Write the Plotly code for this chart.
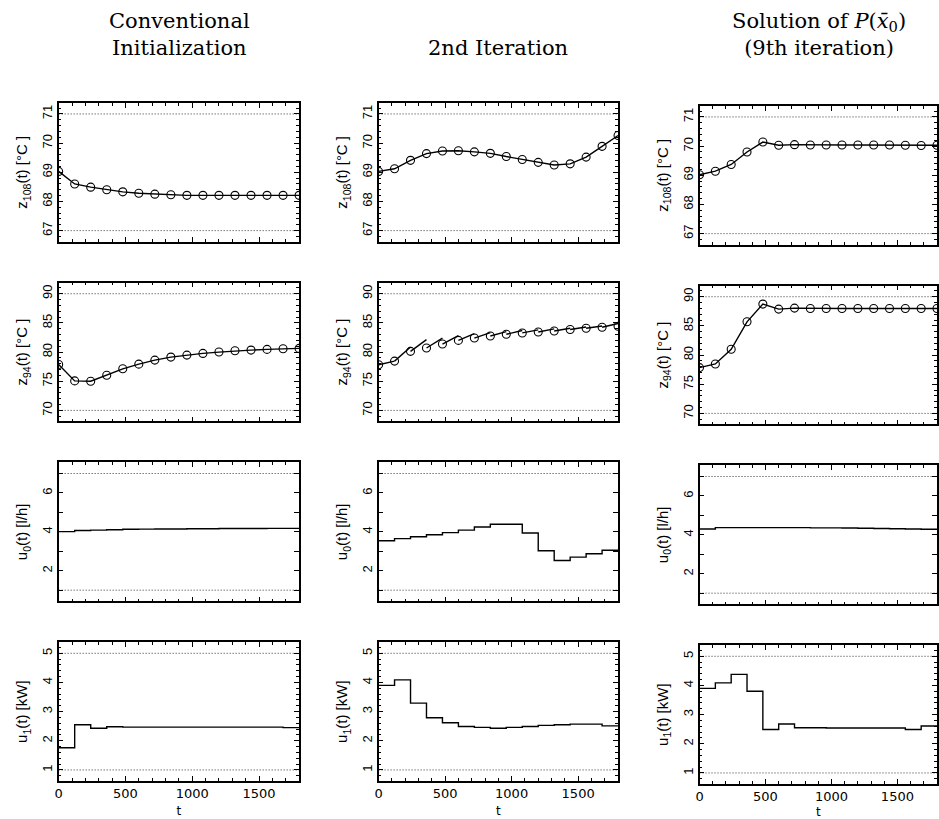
import plotly.graph_objects as go

W, H = 939, 819

# ---------------- data ----------------
T = [0, 120, 240, 360, 480, 600, 720, 840, 960, 1080, 1200, 1320, 1440, 1560, 1680, 1800]

z108_conv = [69.03, 68.60, 68.49, 68.40, 68.33, 68.28, 68.25, 68.23, 68.21, 68.21, 68.21, 68.21, 68.21, 68.21, 68.21, 68.21]
z108_iter2 = [69.03, 69.12, 69.41, 69.64, 69.73, 69.74, 69.70, 69.65, 69.54, 69.44, 69.34, 69.25, 69.29, 69.52, 69.89, 70.26]
z108_sol = [69.02, 69.14, 69.37, 69.80, 70.14, 70.03, 70.05, 70.04, 70.04, 70.04, 70.04, 70.04, 70.04, 70.03, 70.02, 70.03]

z94_conv = [77.87, 75.06, 75.00, 76.03, 77.13, 77.93, 78.62, 79.14, 79.48, 79.77, 80.00, 80.23, 80.34, 80.46, 80.57, 80.63]
z94_iter2_nodes = [77.83, 78.45, 80.12, 80.70, 81.38, 82.00, 82.40, 82.76, 83.05, 83.28, 83.45, 83.62, 83.86, 84.09, 84.26, 84.43]
z94_iter2_ends = [78.45, 80.86, 82.14, 82.40, 82.80, 83.17, 83.34, 83.50, 83.69, 83.80, 83.97, 84.09, 84.30, 84.48, 84.90]
z94_sol = [77.85, 78.48, 81.00, 85.70, 88.74, 87.88, 88.05, 87.99, 87.99, 87.99, 87.99, 87.99, 87.99, 87.99, 87.99, 87.99]

u0_conv = [4.01, 4.07, 4.09, 4.11, 4.13, 4.14, 4.15, 4.15, 4.16, 4.16, 4.17, 4.17, 4.17, 4.18, 4.18]
u0_iter2 = [3.54, 3.65, 3.75, 3.85, 3.96, 4.09, 4.25, 4.39, 4.39, 3.94, 3.03, 2.53, 2.70, 2.87, 3.05]
u0_sol = [4.30, 4.37, 4.37, 4.37, 4.37, 4.37, 4.37, 4.36, 4.36, 4.35, 4.34, 4.33, 4.31, 4.30, 4.29]

u1_conv = [1.76, 2.55, 2.43, 2.48, 2.47, 2.47, 2.47, 2.47, 2.47, 2.47, 2.47, 2.47, 2.47, 2.47, 2.45]
u1_iter2 = [3.90, 4.09, 3.29, 2.79, 2.62, 2.49, 2.46, 2.43, 2.46, 2.49, 2.53, 2.55, 2.57, 2.57, 2.51]
u1_sol = [3.90, 4.09, 4.38, 3.80, 2.49, 2.68, 2.55, 2.55, 2.54, 2.54, 2.54, 2.54, 2.54, 2.49, 2.61]

limits = {"z108": [67, 71], "z94": [70, 90], "u0": [1, 7], "u1": [1, 5]}
ylabels = {"z108": "z<sub>108</sub>(t) [°C ]", "z94": "z<sub>94</sub>(t) [°C ]",
           "u0": "u<sub>0</sub>(t) [l/h]", "u1": "u<sub>1</sub>(t) [kW]"}
col_titles = ["Conventional<br>Initialization", "2nd Iteration",
              "Solution of <i>P</i>(<i>x̄</i><sub>0</sub>)<br>(9th iteration)"]
xticks = [0, 500, 1000, 1500]
yticks = {"z108": [67, 68, 69, 70, 71], "z94": [70, 75, 80, 85, 90], "u0": [2, 4, 6], "u1": [1, 2, 3, 4, 5]}
yminor = {"z108": 0.2, "z94": 1, "u0": 1, "u1": 0.2}

rows = ["z108", "z94", "u0", "u1"]

# ---------------- layout geometry (pixels) ----------------
col_x = [(55, 297), (377, 618), (700, 939)]
row_y = [(103, 242), (283, 422), (463, 602), (643, 782)]
col3_shift = 3

fig = go.Figure()
layout = {}
shapes = []

def px_dom_x(a, b):
    return [a / W, min(b / W, 1.0)]

def px_dom_y(top, bot):
    return [1 - bot / H, 1 - top / H]

line_style = dict(color="black", width=1.4)
mk = dict(symbol="circle-open", size=8, color="black", line=dict(width=1.1))

for r, key in enumerate(rows):
    lo, hi = limits[key]
    pad = 0.095 * (hi - lo)
    for c in range(3):
        k = r * 3 + c + 1
        sfx = "" if k == 1 else str(k)
        xa = "x" + sfx
        ya = "y" + sfx
        # ----- traces -----
        if key == "z108":
            ys = [z108_conv, z108_iter2, z108_sol][c]
            fig.add_trace(go.Scatter(x=T, y=ys, mode="lines+markers", xaxis=xa, yaxis=ya,
                                     line=line_style, marker=mk))
        elif key == "z94":
            if c == 1:
                sx, sy = [], []
                for i in range(len(T) - 1):
                    sx += [T[i], T[i + 1], None]
                    sy += [z94_iter2_nodes[i], z94_iter2_ends[i], None]
                fig.add_trace(go.Scatter(x=sx, y=sy, mode="lines", xaxis=xa, yaxis=ya, line=line_style))
                fig.add_trace(go.Scatter(x=T, y=z94_iter2_nodes, mode="markers", xaxis=xa, yaxis=ya, marker=mk))
            else:
                ys = [z94_conv, None, z94_sol][c]
                fig.add_trace(go.Scatter(x=T, y=ys, mode="lines+markers", xaxis=xa, yaxis=ya,
                                         line=line_style, marker=mk))
        else:
            vals = {"u0": [u0_conv, u0_iter2, u0_sol], "u1": [u1_conv, u1_iter2, u1_sol]}[key][c]
            fig.add_trace(go.Scatter(x=T, y=vals + [vals[-1]], mode="lines", line_shape="hv",
                                     xaxis=xa, yaxis=ya, line=line_style))
        # ----- limit lines -----
        for lim in (lo, hi):
            shapes.append(dict(type="line", xref=f"{xa} domain", yref=ya, x0=0, x1=1, y0=lim, y1=lim,
                               line=dict(color="#333333", width=1, dash="1px,2px"), layer="below"))
        # ----- axes -----
        x0, x1 = col_x[c]
        t0, b0 = row_y[r]
        if c == 2:
            t0 += col3_shift
            b0 += col3_shift
        xname = "xaxis" + sfx
        yname = "yaxis" + sfx
        layout[xname] = dict(domain=px_dom_x(x0, x1), anchor=ya, range=[0, 1800],
                             showline=True, linecolor="black", linewidth=1.5, mirror="allticks",
                             ticks="inside", ticklen=5, tickwidth=1, tickcolor="black",
                             tickvals=xticks, showgrid=False, zeroline=False,
                             minor=dict(ticks="inside", dtick=100, tick0=0, ticklen=3, tickcolor="black", showgrid=False),
                             showticklabels=(r == 3),
                             tickfont=dict(family="DejaVu Sans", size=13, color="black"))
        if r == 3:
            layout[xname]["title"] = dict(text="t", font=dict(family="DejaVu Sans", size=12, color="black"), standoff=6)
        mlen = 5 if key == "u0" else 3
        layout[yname] = dict(domain=px_dom_y(t0, b0), anchor=xa, range=[lo - pad, hi + pad],
                             showline=True, linecolor="black", linewidth=1.5, mirror="allticks",
                             ticks="inside", ticklen=5, tickwidth=1, tickcolor="black",
                             tickvals=yticks[key],
                             minor=dict(ticks="inside", dtick=yminor[key], tick0=lo, ticklen=mlen,
                                        tickcolor="black", showgrid=False),
                             showgrid=False, zeroline=False, tickangle=-90,
                             tickfont=dict(family="Liberation Sans", size=13, color="black"),
                             title=dict(text=ylabels[key], font=dict(family="Liberation Sans", size=15, color="black"),
                                        standoff=8))

annotations = []
title_x = [177, 497, 820]
for c, txt in enumerate(col_titles):
    annotations.append(dict(text=txt, x=title_x[c] / W, y=1 - 62 / H, xref="paper", yref="paper",
                            xanchor="center", yanchor="bottom", showarrow=False, align="center",
                            font=dict(family="DejaVu Serif", size=21, color="black")))

fig.update_layout(**layout)
fig.update_layout(width=W, height=H, margin=dict(l=0, r=0, t=0, b=0),
                  paper_bgcolor="white", plot_bgcolor="white", showlegend=False,
                  shapes=shapes, annotations=annotations)

fig.write_html("out.html", config={"displayModeBar": False},
               post_script="document.body.style.margin='0px';document.body.style.overflow='hidden';")
